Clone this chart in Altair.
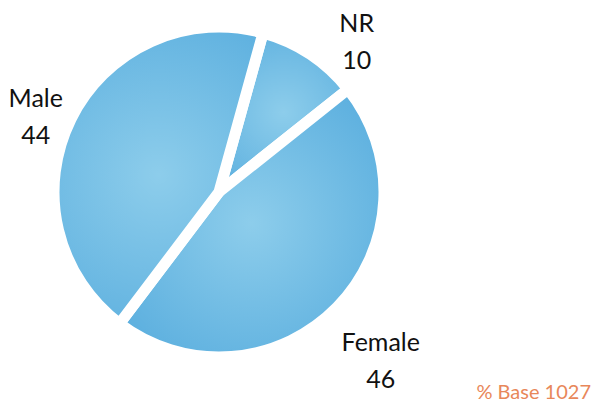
import altair as alt
import pandas as pd

categories = ["NR", "Female", "Male"]
values = [10, 46, 44]
order = [1, 2, 3]

# label layout (not data): radius in px and angular nudge in degrees
label_radius = [204, 234, 198]
label_nudge_deg = [9, 2, -4]

df = pd.DataFrame({
    "category": categories,
    "value": values,
    "order": order,
    "label": [f"{c}\n{v}" for c, v in zip(categories, values)],
    "lr": label_radius,
    "nudge": label_nudge_deg,
})

start = 0.27
theta_scale = alt.Scale(domain=[0, 100], range=[start, start + 6.283185])

pie_base = alt.Chart(df)

grad = alt.RadialGradient(
    gradient="radial",
    stops=[
        alt.GradientStop(color="#8dcdeb", offset=0),
        alt.GradientStop(color="#55abdd", offset=1),
    ],
    x1=0.5, y1=0.5, x2=0.5, y2=0.5, r1=0, r2=0.7,
)

pie = pie_base.transform_window(
    cum="sum(value)", sort=[alt.SortField("order")]
).transform_calculate(
    t0="datum.cum - datum.value"
).mark_arc(outerRadius=165, color=grad, stroke="white", strokeWidth=11).encode(
    theta=alt.Theta("t0:Q", scale=theta_scale),
    theta2="cum:Q",
)

labels = pie_base.transform_window(
    cum="sum(value)", sort=[alt.SortField("order")]
).transform_calculate(
    mid="datum.cum - datum.value / 2 + datum.nudge / 3.6"
).mark_text(
    font="Lato", fontSize=25, color="#111111", lineBreak="\n",
    align="center", baseline="middle", lineHeight=37, dy=-18,
).encode(
    theta=alt.Theta("mid:Q", scale=theta_scale),
    radius=alt.Radius("lr:Q", scale=None),
    text="label:N",
)

base_note = alt.Chart(pd.DataFrame({"t": ["% Base 1027"]})).mark_text(
    font="Lato", fontSize=20, color="#e8875a", align="right", baseline="bottom"
).encode(text="t:N", x=alt.value(583), y=alt.value(395))

chart = alt.layer(pie, labels, base_note).properties(
    width=422, height=368,
    autosize=alt.AutoSizeParams(type="none"),
    padding={"left": 0, "top": 0, "right": 162, "bottom": 28},
).configure_view(stroke=None)

chart.save("out.html", embed_options={"renderer": "svg", "actions": False})
